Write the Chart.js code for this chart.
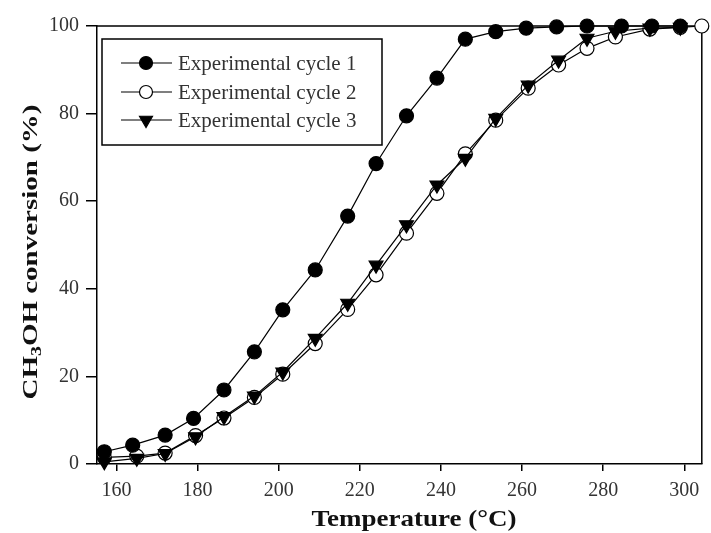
<!DOCTYPE html>
<html>
<head>
<meta charset="utf-8">
<script src="https://cdn.jsdelivr.net/npm/chart.js@4.4.0/dist/chart.umd.min.js"></script>
<style>
  html, body { margin: 0; padding: 0; background: #fff; }
</style>
</head>
<body>
<canvas id="myChart" width="711" height="533"></canvas>
<script>
// (temperature in °C, conversion in %)
const temps1 = [157, 164, 172, 179, 186.5, 194, 201, 209, 217, 224, 231.5, 239, 246, 253.5, 261, 268.5, 276, 284.5, 292, 299];
const conv1 = [2.8, 4.3, 6.6, 10.4, 16.9, 25.6, 35.2, 44.3, 56.6, 68.6, 79.5, 88.1, 97, 98.7, 99.5, 99.8, 100, 100, 100, 100];

const temps2 = [157, 165, 172, 179.5, 186.5, 194, 201, 209, 217, 224, 231.5, 239, 246, 253.5, 261.5, 269, 276, 283, 291.5, 299, 304.3];
const conv2 = [1.5, 1.8, 2.5, 6.5, 10.5, 15.2, 20.5, 27.5, 35.3, 43.2, 52.7, 61.8, 70.8, 78.5, 85.8, 91.1, 94.9, 97.5, 99.3, 99.7, 100];

const temps3 = [157, 165, 172, 179.5, 186.5, 194, 201, 209, 217, 224, 231.5, 239, 246, 253.5, 261.5, 269, 276, 283, 291.5, 299];
const conv3 = [0.5, 1.3, 2.4, 6.2, 10.8, 15.5, 21, 28.7, 36.7, 45.4, 54.6, 63.7, 69.8, 78.9, 86.5, 92.2, 97.2, 98.8, 99.5, 99.7];

const seriesNames = ["Experimental cycle 1", "Experimental cycle 2", "Experimental cycle 3"];
const xTitle = "Temperature (°C)";
const yTitle = ["CH", "3", "OH conversion (%)"];

const serif = "'Liberation Serif', 'Times New Roman', serif";

function toPoints(xs, ys) {
  return xs.map((x, i) => ({ x: x, y: ys[i] }));
}

// top/right frame, legend box and both axis titles (the source stretches them a bit)
const extras = {
  id: "extras",
  beforeDatasetsDraw(chart) {
    const { ctx, chartArea } = chart;
    ctx.save();
    ctx.strokeStyle = "#000";
    ctx.lineWidth = 1.5;
    ctx.beginPath();
    ctx.moveTo(chartArea.left, chartArea.top);
    ctx.lineTo(chartArea.right, chartArea.top);
    ctx.lineTo(chartArea.right, chartArea.bottom);
    ctx.stroke();
    ctx.restore();
  },
  afterDraw(chart) {
    const ctx = chart.ctx;
    ctx.save();

    // legend
    ctx.strokeStyle = "#000";
    ctx.lineWidth = 1.5;
    ctx.strokeRect(102, 39, 280, 106);
    const rows = [63, 92, 120];
    chart.data.datasets.forEach((ds, i) => {
      const y = rows[i];
      ctx.strokeStyle = "#000";
      ctx.lineWidth = 1.2;
      ctx.beginPath();
      ctx.moveTo(121, y);
      ctx.lineTo(172, y);
      ctx.stroke();
      ctx.fillStyle = ds.pointBackgroundColor;
      ctx.strokeStyle = "#000";
      Chart.helpers.drawPoint(ctx, {
        pointStyle: ds.pointStyle,
        radius: ds.pointStyle === "triangle" ? 7.5 : 6.5,
        rotation: ds.pointRotation || 0,
        borderWidth: 1.2
      }, 146, y);
      ctx.fillStyle = "#333";
      ctx.font = "21px " + serif;
      ctx.textBaseline = "middle";
      ctx.textAlign = "left";
      ctx.fillText(ds.label, 178, y + 1);
    });

    // x axis title
    ctx.save();
    ctx.fillStyle = "#111";
    ctx.font = "bold 23px " + serif;
    ctx.textBaseline = "alphabetic";
    ctx.textAlign = "center";
    const wx = ctx.measureText(xTitle).width;
    ctx.translate(414, 526);
    ctx.scale(205 / wx, 1);
    ctx.fillText(xTitle, 0, 0);
    ctx.restore();

    // y axis title with subscript
    ctx.translate(31, 252);
    ctx.rotate(-Math.PI / 2);
    ctx.fillStyle = "#111";
    ctx.textBaseline = "middle";
    ctx.textAlign = "left";
    const big = "bold 22px " + serif;
    const small = "bold 15px " + serif;
    ctx.font = big;
    const w1 = ctx.measureText(yTitle[0]).width;
    const w3 = ctx.measureText(yTitle[2]).width;
    ctx.font = small;
    const w2 = ctx.measureText(yTitle[1]).width;
    const total = w1 + w2 + w3;
    ctx.scale(295 / total, 1);
    let x = -total / 2;
    ctx.font = big;
    ctx.fillText(yTitle[0], x, 0);
    x += w1;
    ctx.font = small;
    ctx.fillText(yTitle[1], x, 6);
    x += w2;
    ctx.font = big;
    ctx.fillText(yTitle[2], x, 0);
    ctx.restore();
  }
};

const myChart = document.getElementById("myChart");

let lineChart = new Chart(myChart, {
  type: "line",
  data: {
    datasets: [
      {
        label: seriesNames[0],
        data: toPoints(temps1, conv1),
        borderColor: "#000",
        borderWidth: 1.2,
        pointStyle: "circle",
        pointRadius: 7,
        pointBackgroundColor: "#000",
        pointBorderColor: "#000",
        pointBorderWidth: 1.2,
        clip: false,
        order: 0
      },
      {
        label: seriesNames[1],
        data: toPoints(temps2, conv2),
        borderColor: "#000",
        borderWidth: 1.2,
        pointStyle: "circle",
        pointRadius: 7,
        pointBackgroundColor: "#fff",
        pointBorderColor: "#000",
        pointBorderWidth: 1.2,
        clip: false,
        order: 2
      },
      {
        label: seriesNames[2],
        data: toPoints(temps3, conv3),
        borderColor: "#000",
        borderWidth: 1.2,
        pointStyle: "triangle",
        pointRotation: 180,
        pointRadius: 8,
        pointBackgroundColor: "#000",
        pointBorderColor: "#000",
        pointBorderWidth: 1.2,
        clip: false,
        order: 1
      }
    ]
  },
  options: {
    responsive: false,
    animation: false,
    layout: { padding: { top: 26, right: 4, left: 0, bottom: 0 } },
    plugins: {
      legend: { display: false },
      tooltip: { enabled: false }
    },
    scales: {
      x: {
        type: "linear",
        min: 155.2,
        max: 304.3,
        afterFit: (scale) => { scale.height = 69; },
        border: { color: "#000", width: 1.5 },
        grid: { drawOnChartArea: false, tickLength: 7, color: "#000", lineWidth: 1.5 },
        ticks: {
          stepSize: 20,
          includeBounds: false,
          padding: 8,
          maxRotation: 0,
          color: "#333",
          font: { family: serif, size: 20 }
        }
      },
      y: {
        min: 0,
        max: 100,
        afterFit: (scale) => { scale.width = 97; },
        border: { color: "#000", width: 1.5 },
        grid: { drawOnChartArea: false, tickLength: 11, color: "#000", lineWidth: 1.5 },
        ticks: {
          stepSize: 20,
          padding: 7,
          color: "#333",
          font: { family: serif, size: 20 }
        }
      }
    }
  },
  plugins: [extras]
});
</script>
</body>
</html>
